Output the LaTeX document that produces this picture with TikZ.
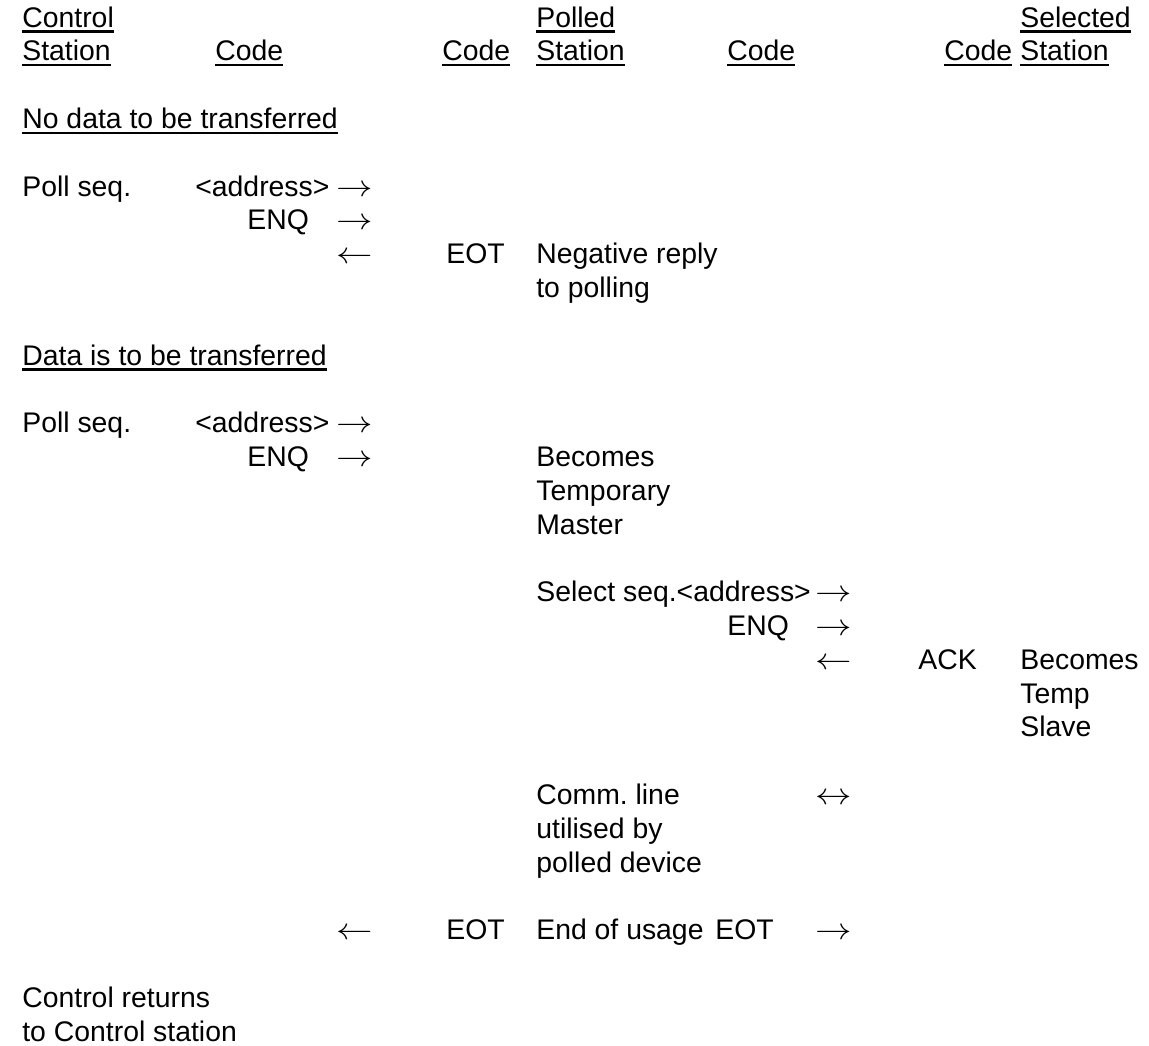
\documentclass[tikz,border=0pt]{standalone}
\usepackage{fontspec}
\usepackage{graphicx}
\setmainfont{Liberation Sans}
\usetikzlibrary{positioning}
\newcommand{\undl}[1]{\setbox0=\hbox{#1}\rlap{\vrule height -1.8pt depth 3.2pt width \wd0}\box0}
\newcommand{\harrow}[1]{\scalebox{1.2}[1]{$#1$}}

\begin{document}
\begin{tikzpicture}[
            x=0.02cm, y=-0.02cm,
            txt/.style={anchor=base west, inner sep=0pt, align=left, font=\fontsize{16.15}{19.23}\selectfont},
            arrowtxt/.style={txt, font=\fontsize{17.5}{19.23}\selectfont},
        ]
            \useasboundingbox (0,0) rectangle (1149,1045);

            % Headings (multi-line nodes sit on their last line)
            \node[txt] (control) at (22,60.8) {\undl{Control}\\\undl{Station}};
            \node[txt] (code_a) at (215,60.8) {\undl{Code}};
            \node[txt] (code_b) at (442,60.8) {\undl{Code}};
            \node[txt] (polled) at (536,60.8) {\undl{Polled}\\\undl{Station}};
            \node[txt] (code_c) at (727,60.8) {\undl{Code}};
            \node[txt] (code_d) at (944,60.8) {\undl{Code}};
            \node[txt] (selected) at (1020,60.8) {\undl{Selected}\\\undl{Station}};

            % No data
            \node[txt] (nodata) at (22,128.4) {\undl{No data to be transferred}};
            \node[txt] (poll_a) at (22,196) {Poll seq.};
            \node[txt] (addr_a) at (195,196) {<address>};
            \node[arrowtxt] (arr_a) at (336,196) {\harrow{\rightarrow}};
            \node[txt] (enq_a) at (247,229.8) {ENQ};
            \node[arrowtxt] (arr_b) at (336,229.8) {\harrow{\rightarrow}};
            \node[arrowtxt] (arr_c) at (336,263.6) {\harrow{\leftarrow}};
            \node[txt] (eot_a) at (446,263.6) {EOT};
            \node[txt] (negative) at (536,297.4) {Negative reply\\to polling};

            % Data
            \node[txt] (data) at (22,365) {\undl{Data is to be transferred}};
            \node[txt] (poll_b) at (22,432.6) {Poll seq.};
            \node[txt] (addr_b) at (195,432.6) {<address>};
            \node[arrowtxt] (arr_d) at (336,432.6) {\harrow{\rightarrow}};
            \node[txt] (enq_b) at (247,466.4) {ENQ};
            \node[arrowtxt] (arr_e) at (336,466.4) {\harrow{\rightarrow}};
            \node[txt] (master) at (536,534) {Becomes\\Temporary\\Master};

            \node[txt] (select) at (536,601.6) {Select seq.<address>};
            \node[arrowtxt] (arr_f) at (815,601.6) {\harrow{\rightarrow}};
            \node[txt] (enq_c) at (727,635.4) {ENQ};
            \node[arrowtxt] (arr_g) at (815,635.4) {\harrow{\rightarrow}};
            \node[arrowtxt] (arr_h) at (815,669.2) {\harrow{\leftarrow}};
            \node[txt] (ack) at (918,669.2) {ACK};
            \node[txt] (slave) at (1020,736.8) {Becomes\\Temp\\Slave};

            \node[txt] (comm) at (536,872) {Comm.\ line\\utilised by\\polled device};
            \node[arrowtxt] (arr_i) at (815,804.4) {\harrow{\leftrightarrow}};

            \node[arrowtxt] (arr_j) at (336,939.6) {\harrow{\leftarrow}};
            \node[txt] (eot_b) at (446,939.6) {EOT};
            \node[txt] (usage) at (536,939.6) {End of usage};
            \node[txt] (eot_c) at (715,939.6) {EOT};
            \node[arrowtxt] (arr_k) at (815,939.6) {\harrow{\rightarrow}};

            \node[txt] (returns) at (22,1041) {Control returns\\to Control station};
        \end{tikzpicture}
\end{document}
